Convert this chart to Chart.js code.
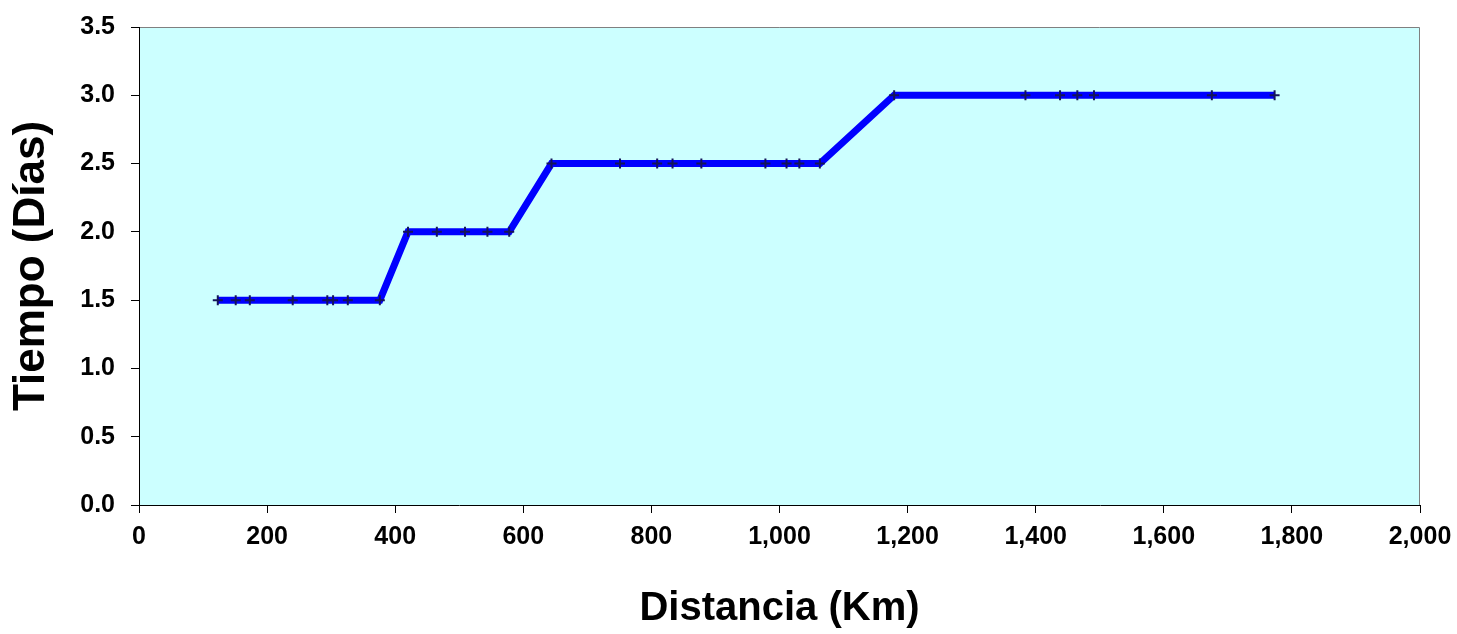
<!DOCTYPE html>
<html lang="es">
<head>
  <meta charset="UTF-8">
  <title>Tiempo vs Distancia</title>
  <script src="https://cdn.jsdelivr.net/npm/chart.js"></script>
  <style>
    html, body { margin: 0; padding: 0; background: #ffffff; }
    #wrap { width: 1457px; height: 634px; }
  </style>
</head>
<body>
  <div id="wrap"><canvas id="tiempoChart"></canvas></div>

  <script>
    // Datos
    const distanciaKm = [123, 151, 173, 240, 294, 303, 326, 376,
                         420, 465, 509, 544, 578,
                         644, 751, 809, 833, 878, 978, 1011, 1031, 1063,
                         1179, 1384, 1438, 1465, 1491, 1675, 1773];
    const tiempoDias = [1.5, 1.5, 1.5, 1.5, 1.5, 1.5, 1.5, 1.5,
                        2.0, 2.0, 2.0, 2.0, 2.0,
                        2.5, 2.5, 2.5, 2.5, 2.5, 2.5, 2.5, 2.5, 2.5,
                        3.0, 3.0, 3.0, 3.0, 3.0, 3.0, 3.0];
    const xTicks = [0, 200, 400, 600, 800, 1000, 1200, 1400, 1600, 1800, 2000];
    const yTicks = [0.0, 0.5, 1.0, 1.5, 2.0, 2.5, 3.0, 3.5];

    const fontFam = '"Liberation Sans", Arial, sans-serif';

    // fondo celeste del area de trazado + borde gris arriba/derecha
    const plotBg = {
      id: 'plotBg',
      beforeDraw(chart) {
        const { ctx, chartArea: a } = chart;
        ctx.save();
        ctx.fillStyle = '#ccffff';
        ctx.fillRect(a.left, a.top, a.right - a.left, a.bottom - a.top);
        ctx.strokeStyle = '#808080';
        ctx.lineWidth = 1;
        ctx.beginPath();
        ctx.moveTo(a.left, a.top + 0.5);
        ctx.lineTo(a.right - 0.5, a.top + 0.5);
        ctx.lineTo(a.right - 0.5, a.bottom);
        ctx.stroke();
        ctx.restore();
      }
    };

    const ctx = document.getElementById('tiempoChart').getContext('2d');
    new Chart(ctx, {
      type: 'scatter',
      data: {
        datasets: [{
          data: distanciaKm.map((d, i) => ({ x: d, y: tiempoDias[i] })),
          showLine: true,
          borderColor: '#0000ff',
          borderWidth: 7,
          pointStyle: 'cross',
          pointRadius: 5,
          pointBorderWidth: 2,
          pointBorderColor: '#14145a',
          pointBackgroundColor: '#14145a',
          tension: 0
        }]
      },
      plugins: [plotBg],
      options: {
        responsive: true,
        maintainAspectRatio: false,
        animation: false,
        layout: { padding: { top: 27, right: 37, left: 0, bottom: 0 } },
        plugins: {
          legend: { display: false },
          tooltip: { enabled: false }
        },
        scales: {
          x: {
            type: 'linear',
            min: 0,
            max: 2000,
            afterBuildTicks: s => { s.ticks = xTicks.map(v => ({ value: v })); },
            afterFit: s => { s.height = 129; s.paddingLeft = 0; s.paddingRight = 0; },
            grid: { drawOnChartArea: false, drawTicks: true, tickLength: 8, color: '#000' },
            border: { color: '#000', width: 1 },
            ticks: {
              padding: 9,
              color: '#000',
              font: { family: fontFam, size: 25, weight: 'bold' },
              callback: v => v.toLocaleString('en-US')
            },
            title: {
              display: true,
              text: 'Distancia (Km)',
              color: '#000',
              padding: { top: 0, bottom: 1 },
              font: { family: fontFam, size: 40, weight: 'bold' }
            }
          },
          y: {
            min: 0,
            max: 3.5,
            afterBuildTicks: s => { s.ticks = yTicks.map(v => ({ value: v })); },
            afterFit: s => { s.width = 139; s.paddingTop = 0; s.paddingBottom = 0; },
            grid: { drawOnChartArea: false, drawTicks: true, tickLength: 8, color: '#000' },
            border: { color: '#000', width: 1 },
            ticks: {
              padding: 16,
              color: '#000',
              font: { family: fontFam, size: 25, weight: 'bold' },
              callback: v => Number(v).toFixed(1)
            },
            title: {
              display: true,
              text: 'Tiempo (Días)',
              color: '#000',
              padding: { top: 5, bottom: 0 },
              font: { family: fontFam, size: 44, weight: 'bold' }
            }
          }
        }
      }
    });
  </script>
</body>
</html>
